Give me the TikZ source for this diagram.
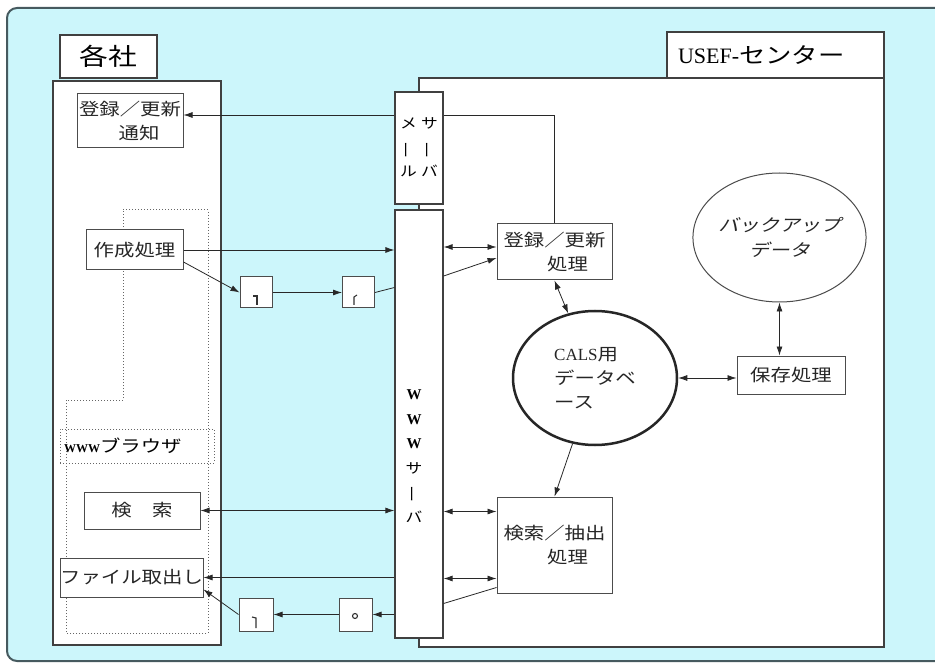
\documentclass[tikz,border=0pt]{standalone}
\usepackage{fontspec}
\usepackage{graphicx}
\setmainfont{Liberation Serif}
\newfontfamily\jp[FakeStretch=1.2]{Noto Sans CJK JP}
\newfontfamily\jpsl[FakeStretch=1.2,FakeSlant=0.25]{Noto Sans CJK JP}
\usetikzlibrary{shapes.geometric,arrows.meta,calc}

\definecolor{bgcyan}{RGB}{204,246,251}
\definecolor{framegray}{RGB}{70,90,95}
\definecolor{linegray}{RGB}{40,40,40}

\tikzset{
  panel/.style={draw=black!75, line width=1.5pt, fill=white},
  tab/.style={draw=black!75, line width=1.2pt, fill=white, inner sep=0pt},
  procbox/.style={draw=black!70, line width=1pt, fill=white, inner sep=0pt,
    font=\jp\fontsize{17}{24}\selectfont, text=black!85},
  docbox/.style={draw=black!70, line width=1pt, fill=white, inner sep=0pt,
    minimum width=32pt, minimum height=31pt},
  server/.style={draw=black!75, line width=1.2pt, fill=white, inner sep=0pt,
    minimum width=48pt},
  glyph/.style={draw=black!80, line width=1.1pt},
  conn/.style={draw=linegray, line width=0.8pt},
  arr/.style={conn, -{Latex[length=9pt,width=6pt]}},
  darr/.style={conn, {Latex[length=9pt,width=6pt]}-{Latex[length=9pt,width=6pt]}},
  dotline/.style={draw=black!60, line width=1pt, dash pattern=on 1pt off 2pt},
}

\begin{document}
\begin{tikzpicture}[x=1pt,y=-1pt]
\useasboundingbox (0,0) rectangle (935,663);

% Draw the background frame
\begin{scope}
\clip (0,0) rectangle (935,663);
\draw[fill=bgcyan, draw=framegray, line width=2pt, rounded corners=10pt]
  (960,8) -- (7,8) -- (7,661) -- (960,661);
\end{scope}

% Panels
\draw[panel] (419,78) rectangle (884,647);
\draw[panel] (53,81) rectangle (221,645);
\node[tab, minimum width=97pt, minimum height=43pt, font=\jp\fontsize{24}{24}\selectfont] (kakusha) at (108.5,56.5) {各社};
\node[tab, text width=195pt, inner xsep=11pt, minimum height=46pt, align=left, font=\jp\fontsize{22}{22}\selectfont] (usef) at (775.5,55) {{\rmfamily USEF-}センター};

% Dotted browser area
\draw[dotline] (123,210) -- (208,210) -- (208,633) -- (66,633) -- (66,400) -- (123,400) -- cycle;
\node[dotline, text width=146pt, inner xsep=4pt, inner ysep=0pt, minimum height=34pt, align=left, font=\jp\fontsize{17}{24}\selectfont] (browser) at (137,446) {{\rmfamily\bfseries\fontsize{12}{12}\selectfont WWW}ブラウザ};

% Boxes of each company
\node[procbox, minimum width=106pt, minimum height=54pt, align=center] (tsuchi) at (130,121) {登録／更新\\\hspace*{18pt}通知};
\node[procbox, minimum width=97pt, minimum height=40pt] (sakusei) at (134.5,250) {作成処理};
\node[procbox, minimum width=116pt, minimum height=37pt] (kensaku) at (142,510.5) {検　索};
\node[procbox, minimum width=143pt, minimum height=39pt] (toridashi) at (131.5,577.5) {ファイル取出し};

% Documents
\node[docbox] (doc1) at (256,292.5) {};
\node[docbox] (doc2) at (358.5,292.5) {};
\node[docbox, minimum width=34pt, minimum height=33pt] (doc3) at (256,614.5) {};
\node[docbox, minimum width=33pt, minimum height=33pt] (doc4) at (355.5,614.5) {};
\draw[glyph] (257,305) -- (257,296) -- (253,296);
\draw[glyph] (354,305) -- (354,297) -- (357,295);
\draw[glyph] (256,628) -- (256,618) -- (252,617);
\draw[glyph] (355,616) circle (2.5pt);

% WWW server
\node[server, minimum height=428pt] (www) at (419,424) {};
\node[inner sep=0pt, align=center, font=\jp\fontsize{14}{24.5}\selectfont] (wwwtext) at (414,456)
  {{\rmfamily\bfseries\fontsize{15}{15}\selectfont W}\\{\rmfamily\bfseries\fontsize{15}{15}\selectfont W}\\{\rmfamily\bfseries\fontsize{15}{15}\selectfont W}\\サ\\\rotatebox[origin=c]{90}{ー}\\バ};

% Boxes of the center
\node[procbox, minimum width=115pt, minimum height=56pt, align=center] (toroku) at (554.5,252) {登録／更新\\\hspace*{26pt}処理};
\node[procbox, minimum width=115pt, minimum height=96pt, align=center] (chushutsu) at (554.5,545) {検索／抽出\\\hspace*{26pt}処理};
\node[procbox, minimum width=108pt, minimum height=38pt] (hozon) at (791,375) {保存処理};
\node[ellipse, draw=black!85, line width=2.5pt, fill=white, minimum width=164pt, minimum height=134pt, inner sep=0pt, align=left, font=\jp\fontsize{17}{24}\selectfont, text=black!85] (cals) at (595,378) {{\rmfamily CALS}用\\データベ\\ース};
\node[ellipse, draw=black!70, line width=1pt, fill=white, minimum width=145pt, minimum height=129pt, inner sep=0pt, align=center, font=\jpsl\fontsize{17}{25}\selectfont, text=black!85] (backup) at (779.5,237.5) {バックアップ\\データ};

% Notification line (runs behind the mail server)
\draw[arr] (toroku.north) |- ([yshift=6pt]tsuchi.east);
\node[server, minimum height=112pt, font=\jp\fontsize{14}{24}\selectfont] (mail) at (419,148)
  {\begin{tabular}{@{}c@{\hspace{4pt}}c@{}}メ&サ\\\rotatebox[origin=c]{90}{ー}&\rotatebox[origin=c]{90}{ー}\\ル&バ\end{tabular}};

% Connectors, company side
\draw[arr] (sakusei.east) -- (sakusei.east -| www.west);
\draw[arr] ($(sakusei.east)+(0,12)$) -- (doc1.west);
\draw[arr] (doc1.east) -- (doc2.west);
\draw[conn] (doc2.east) -- ($(doc2.east -| www.west)+(0,-5)$);
\draw[darr] (kensaku.east) -- (kensaku.east -| www.west);
\draw[arr] (toridashi.east -| www.west) -- (toridashi.east);
\draw[arr] (doc4.east -| www.west) -- (doc4.east);
\draw[arr] (doc4.west) -- (doc3.east);
\draw[arr] (doc3.west) -- ($(toridashi.east)+(0,12)$);

% Connectors, center side
\coordinate (tin) at ($(toroku.west)+(0,-5)$);
\draw[darr] (tin -| www.east) -- (tin);
\draw[arr] ($(tin -| www.east)+(0,29)$) -- ($(toroku.west)+(0,6)$);
\coordinate (cin) at ($(chushutsu.north west)+(0,15)$);
\draw[darr] (cin -| www.east) -- (cin);
\coordinate (cout) at ($(chushutsu.south west)+(0,-15)$);
\draw[darr] (cout -| www.east) -- (cout);
\draw[conn] ($(cout -| www.east)+(0,25)$) -- ($(chushutsu.south west)+(0,-6)$);
\draw[darr] (toroku.south) -- (cals);
\draw[arr] (cals) -- (chushutsu.north);
\draw[darr] (cals.east) -- (cals.east -| hozon.west);
\draw[darr] (backup.south) -- (backup.south |- hozon.north);
\end{tikzpicture}
\end{document}
